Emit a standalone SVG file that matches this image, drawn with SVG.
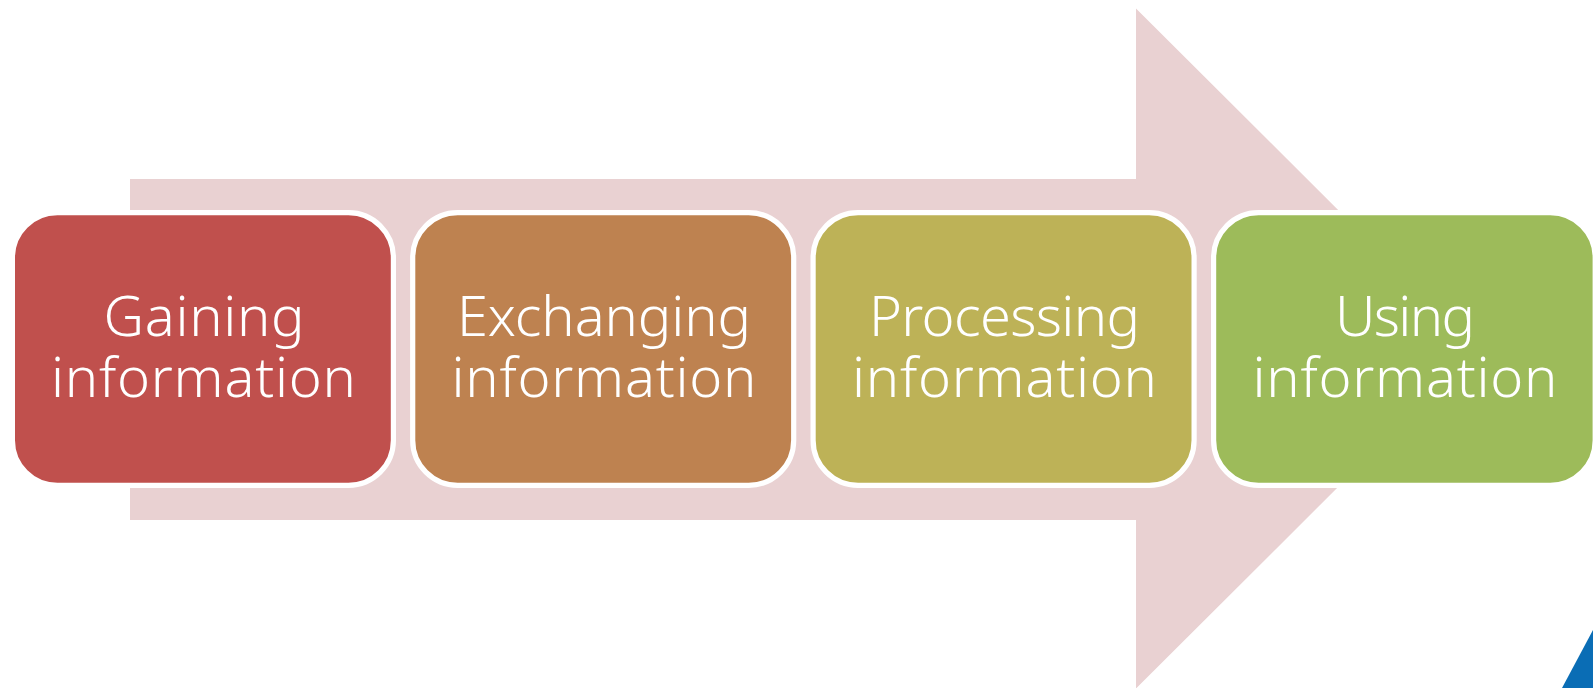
<svg xmlns="http://www.w3.org/2000/svg" width="1593" height="688" viewBox="0 0 1593 688">
<style>
.box{stroke:#fff;stroke-width:5.2}
.t{font-family:"Noto Sans",Roboto,"Liberation Sans",Arial,sans-serif;font-weight:300;font-size:56px;fill:#fff;text-anchor:middle;font-variant-ligatures:none}
</style>
<rect width="1593" height="688" fill="#fff"/>
<polygon id="big-arrow" points="130,179 1136,179 1136,8.5 1477,348.5 1136,688.5 1136,520 130,520" fill="#e9d1d2"/>
<polygon id="corner" points="1593,630 1593,688 1562,688" fill="#0a6db5"/>
<g id="connectors"></g>
<g id="n1"><rect class="box" x="12.4" y="212.7" width="381" height="272.6" rx="45" fill="#c0504d"/><text class="t" x="204" y="336" textLength="201">Gaining</text><text class="t" x="203.5" y="397" textLength="305">information</text></g>
<g id="n2"><rect class="box" x="412.7" y="212.7" width="381" height="272.6" rx="45" fill="#be8250"/><text class="t" x="604" y="336" textLength="294">Exchanging</text><text class="t" x="604" y="397" textLength="305">information</text></g>
<g id="n3"><rect class="box" x="813.1" y="212.7" width="381" height="272.6" rx="45" fill="#bdb257"/><text class="t" x="1004.5" y="336" textLength="271">Processing</text><text class="t" x="1004.5" y="397" textLength="305">information</text></g>
<g id="n4"><rect class="box" x="1213.6" y="212.7" width="381.6" height="272.6" rx="45" fill="#9dbb5a"/><text class="t" x="1405" y="336" textLength="140">Using</text><text class="t" x="1405" y="397" textLength="305">information</text></g>
</svg>
